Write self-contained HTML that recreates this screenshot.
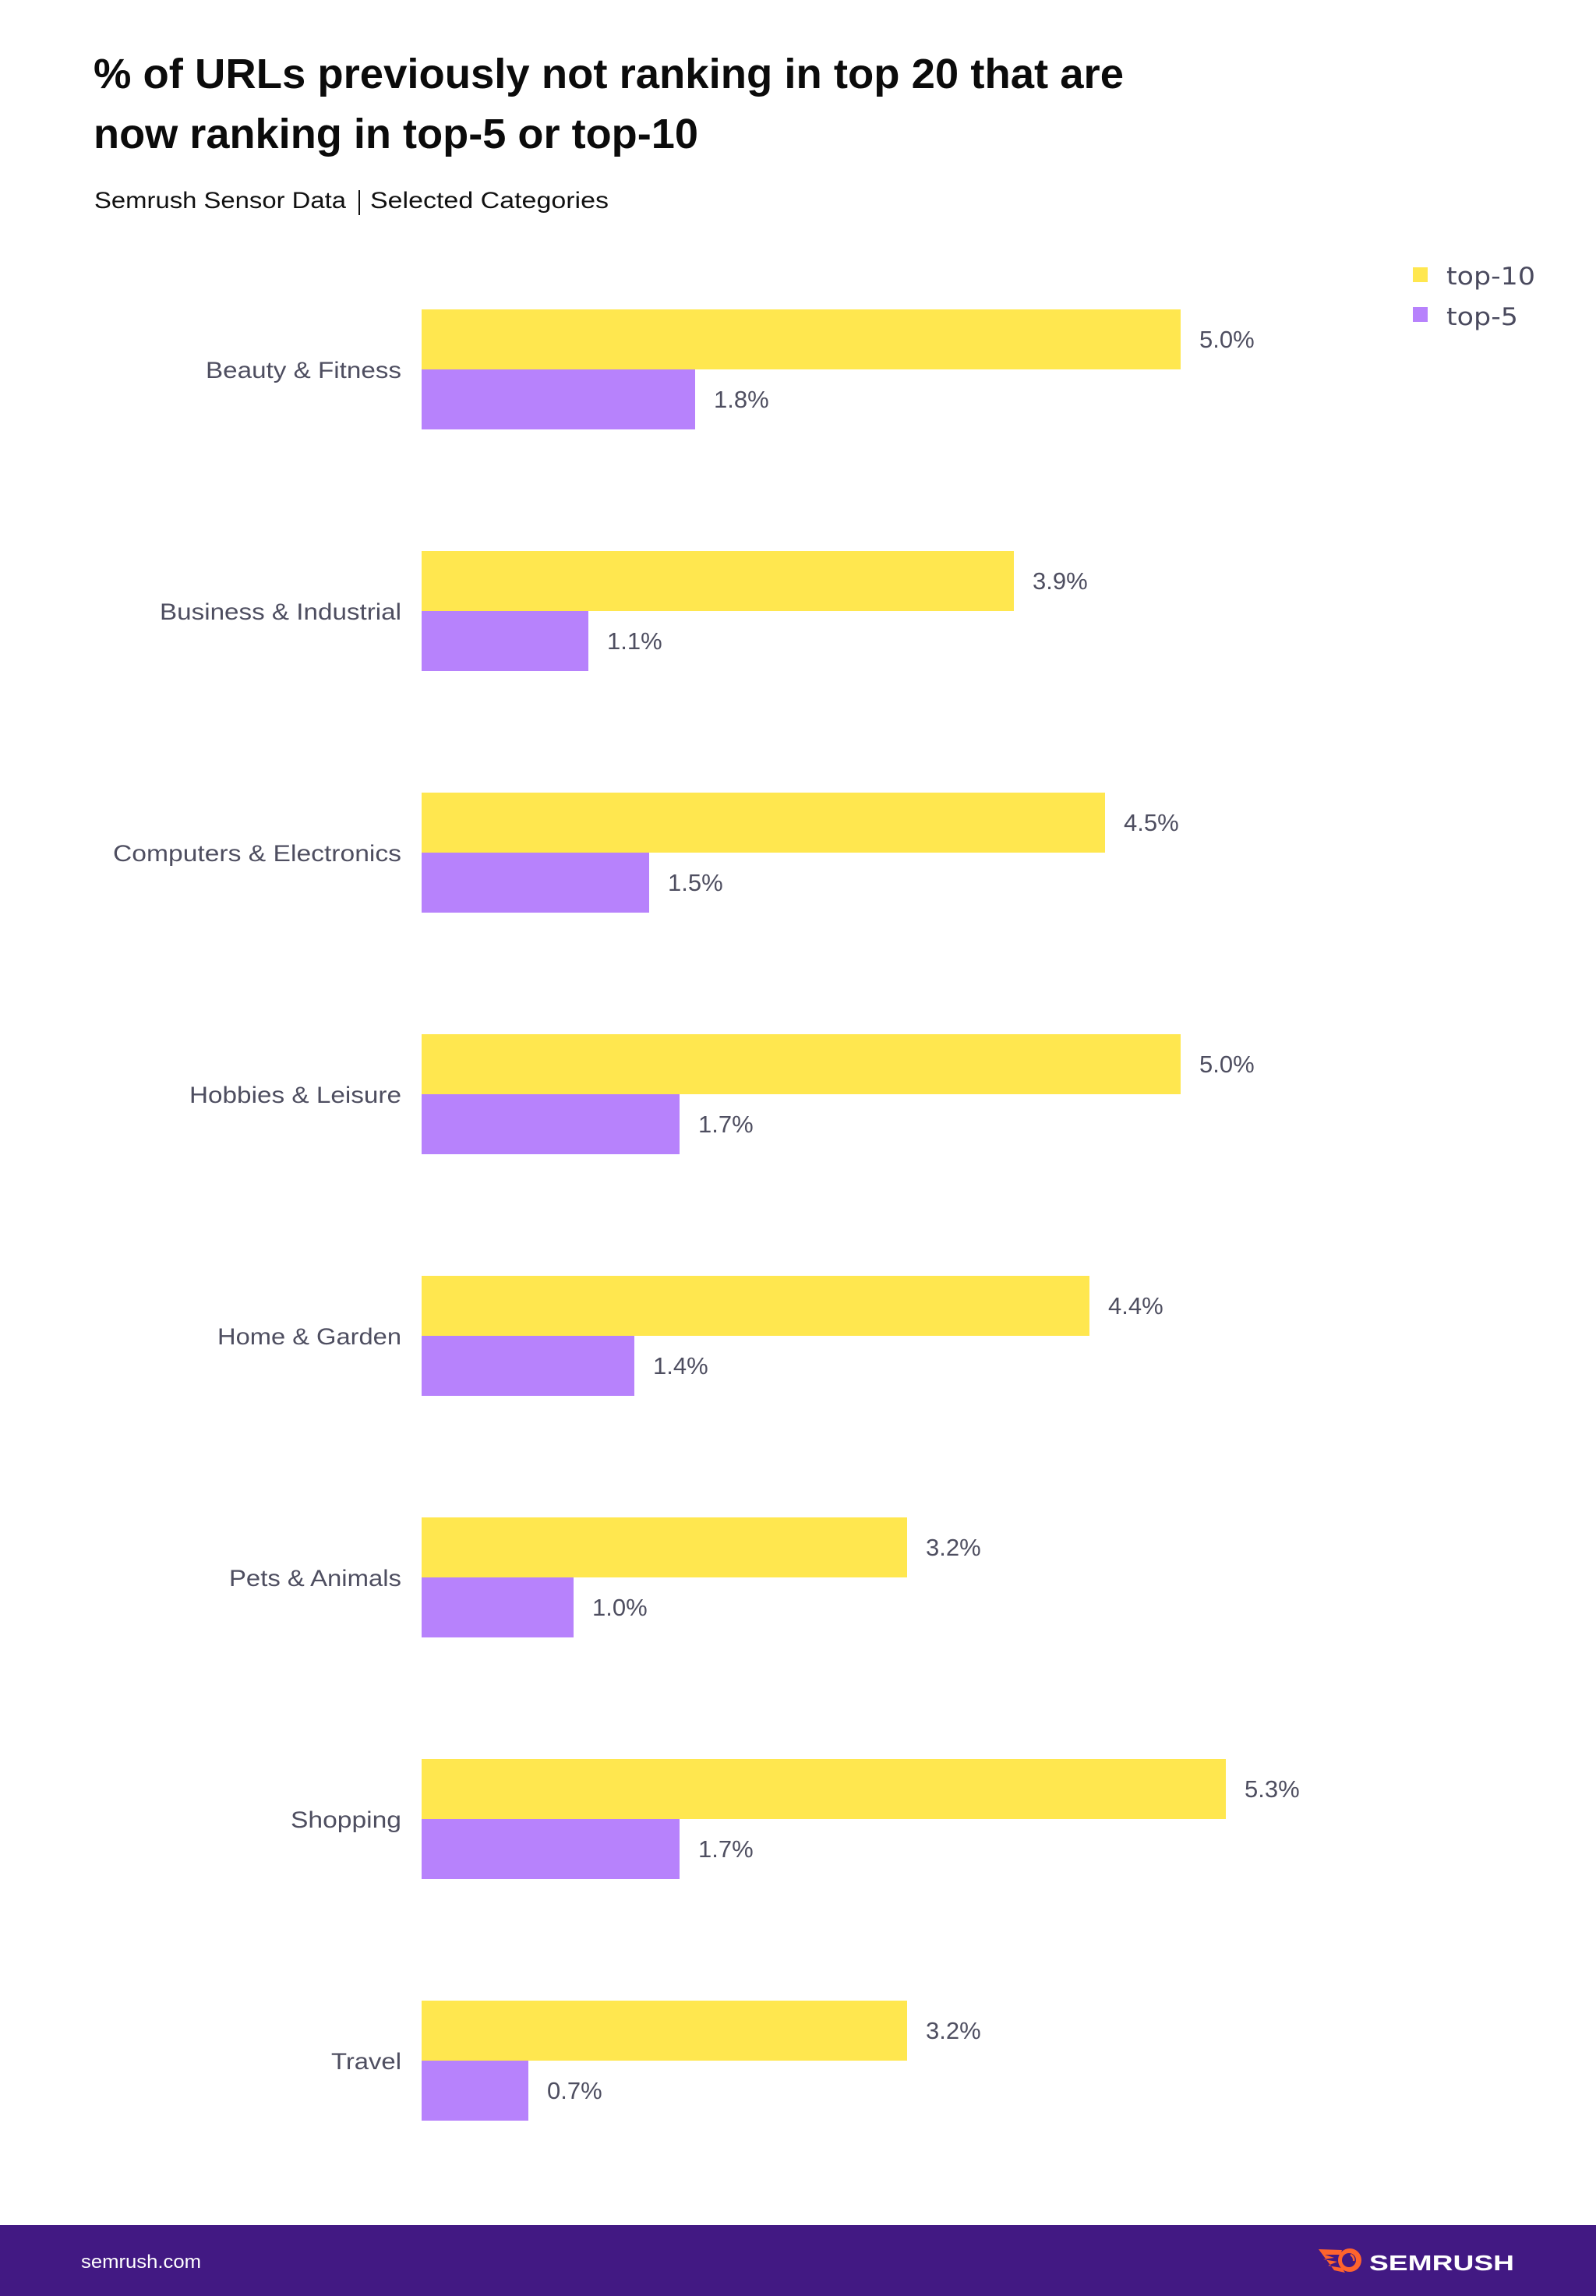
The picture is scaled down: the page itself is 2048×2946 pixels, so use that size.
<!DOCTYPE html>
<html>
<head>
<meta charset="utf-8">
<style>
html,body{margin:0;padding:0;background:#ffffff;}
svg{display:block;}
</style>
</head>
<body>
<svg width="2048" height="2946" viewBox="0 0 2048 2946" xmlns="http://www.w3.org/2000/svg">
<rect x="0" y="0" width="2048" height="2946" fill="#ffffff"/>

<!-- Title -->
<g font-family="'Liberation Sans', sans-serif" font-weight="bold" fill="#0b0b0b" font-size="54">
<text x="120" y="113" textLength="1322" lengthAdjust="spacingAndGlyphs">% of URLs previously not ranking in top 20 that are</text>
<text x="120" y="190" textLength="776" lengthAdjust="spacingAndGlyphs">now ranking in top-5 or top-10</text>
</g>

<!-- Subtitle -->
<g font-family="'Liberation Sans', sans-serif" fill="#111111" font-size="30">
<text x="121" y="267" textLength="323" lengthAdjust="spacingAndGlyphs">Semrush Sensor Data</text>
<text x="475" y="267" textLength="306" lengthAdjust="spacingAndGlyphs">Selected Categories</text>
</g>
<rect x="460" y="244" width="2" height="32" fill="#111111"/>

<!-- Legend -->
<rect x="1813" y="343" width="19" height="19" fill="#FFE74F"/>
<rect x="1813" y="394" width="19" height="19" fill="#B782FC"/>
<g font-family="'DejaVu Sans', sans-serif" fill="#4a4a5e" font-size="31">
<text x="1856" y="365" textLength="114" lengthAdjust="spacingAndGlyphs">top-10</text>
<text x="1856" y="417" textLength="92" lengthAdjust="spacingAndGlyphs">top-5</text>
</g>

<!-- Bars -->
<g>
<!-- group 0: Beauty & Fitness  y=397 -->
<rect x="541" y="397" width="974" height="77" fill="#FFE74F"/>
<rect x="541" y="474" width="351" height="77" fill="#B782FC"/>
<!-- group 1: Business & Industrial y=707 -->
<rect x="541" y="707" width="760" height="77" fill="#FFE74F"/>
<rect x="541" y="784" width="214" height="77" fill="#B782FC"/>
<!-- group 2: Computers & Electronics y=1017 -->
<rect x="541" y="1017" width="877" height="77" fill="#FFE74F"/>
<rect x="541" y="1094" width="292" height="77" fill="#B782FC"/>
<!-- group 3: Hobbies & Leisure y=1327 -->
<rect x="541" y="1327" width="974" height="77" fill="#FFE74F"/>
<rect x="541" y="1404" width="331" height="77" fill="#B782FC"/>
<!-- group 4: Home & Garden y=1637 -->
<rect x="541" y="1637" width="857" height="77" fill="#FFE74F"/>
<rect x="541" y="1714" width="273" height="77" fill="#B782FC"/>
<!-- group 5: Pets & Animals y=1947 -->
<rect x="541" y="1947" width="623" height="77" fill="#FFE74F"/>
<rect x="541" y="2024" width="195" height="77" fill="#B782FC"/>
<!-- group 6: Shopping y=2257 -->
<rect x="541" y="2257" width="1032" height="77" fill="#FFE74F"/>
<rect x="541" y="2334" width="331" height="77" fill="#B782FC"/>
<!-- group 7: Travel y=2567 -->
<rect x="541" y="2567" width="623" height="77" fill="#FFE74F"/>
<rect x="541" y="2644" width="137" height="77" fill="#B782FC"/>
</g>

<!-- Category labels -->
<g font-family="'Liberation Sans', sans-serif" fill="#4e4e60" font-size="30" text-anchor="end">
<text x="515" y="485" textLength="251" lengthAdjust="spacingAndGlyphs">Beauty &amp; Fitness</text>
<text x="515" y="795" textLength="310" lengthAdjust="spacingAndGlyphs">Business &amp; Industrial</text>
<text x="515" y="1105" textLength="370" lengthAdjust="spacingAndGlyphs">Computers &amp; Electronics</text>
<text x="515" y="1415" textLength="272" lengthAdjust="spacingAndGlyphs">Hobbies &amp; Leisure</text>
<text x="515" y="1725" textLength="236" lengthAdjust="spacingAndGlyphs">Home &amp; Garden</text>
<text x="515" y="2035" textLength="221" lengthAdjust="spacingAndGlyphs">Pets &amp; Animals</text>
<text x="515" y="2345" textLength="142" lengthAdjust="spacingAndGlyphs">Shopping</text>
<text x="515" y="2655" textLength="90" lengthAdjust="spacingAndGlyphs">Travel</text>
</g>

<!-- Value labels -->
<g font-family="'Liberation Sans', sans-serif" fill="#4e4e60" font-size="31">
<text x="1539" y="446">5.0%</text>
<text x="916" y="523">1.8%</text>
<text x="1325" y="756">3.9%</text>
<text x="779" y="833">1.1%</text>
<text x="1442" y="1066">4.5%</text>
<text x="857" y="1143">1.5%</text>
<text x="1539" y="1376">5.0%</text>
<text x="896" y="1453">1.7%</text>
<text x="1422" y="1686">4.4%</text>
<text x="838" y="1763">1.4%</text>
<text x="1188" y="1996">3.2%</text>
<text x="760" y="2073">1.0%</text>
<text x="1597" y="2306">5.3%</text>
<text x="896" y="2383">1.7%</text>
<text x="1188" y="2616">3.2%</text>
<text x="702" y="2693">0.7%</text>
</g>

<!-- Footer -->
<rect x="0" y="2855" width="2048" height="91" fill="#421983"/>
<text x="104" y="2910" font-family="'Liberation Sans', sans-serif" font-size="24" fill="#ffffff" textLength="154" lengthAdjust="spacingAndGlyphs">semrush.com</text>

<!-- Semrush logo -->
<g>
<path d="M1692,2886 L1722,2887 L1720,2893 L1700,2893 L1712,2897 L1698,2899 L1716,2902 L1704,2907 L1722,2910 L1726,2916 L1712,2913 Z" fill="#FF642D"/>
<circle cx="1732" cy="2900" r="15" fill="#FF642D"/>
<circle cx="1731" cy="2900" r="9" fill="#421983"/>
<path d="M1733,2893 A7,7 0 0 1 1737,2901" stroke="#FF642D" stroke-width="2.5" fill="none"/>
<text x="1757" y="2913" font-family="'Liberation Sans', sans-serif" font-weight="bold" font-size="28" fill="#ffffff" textLength="186" lengthAdjust="spacingAndGlyphs">SEMRUSH</text>
</g>
</svg>
</body>
</html>
